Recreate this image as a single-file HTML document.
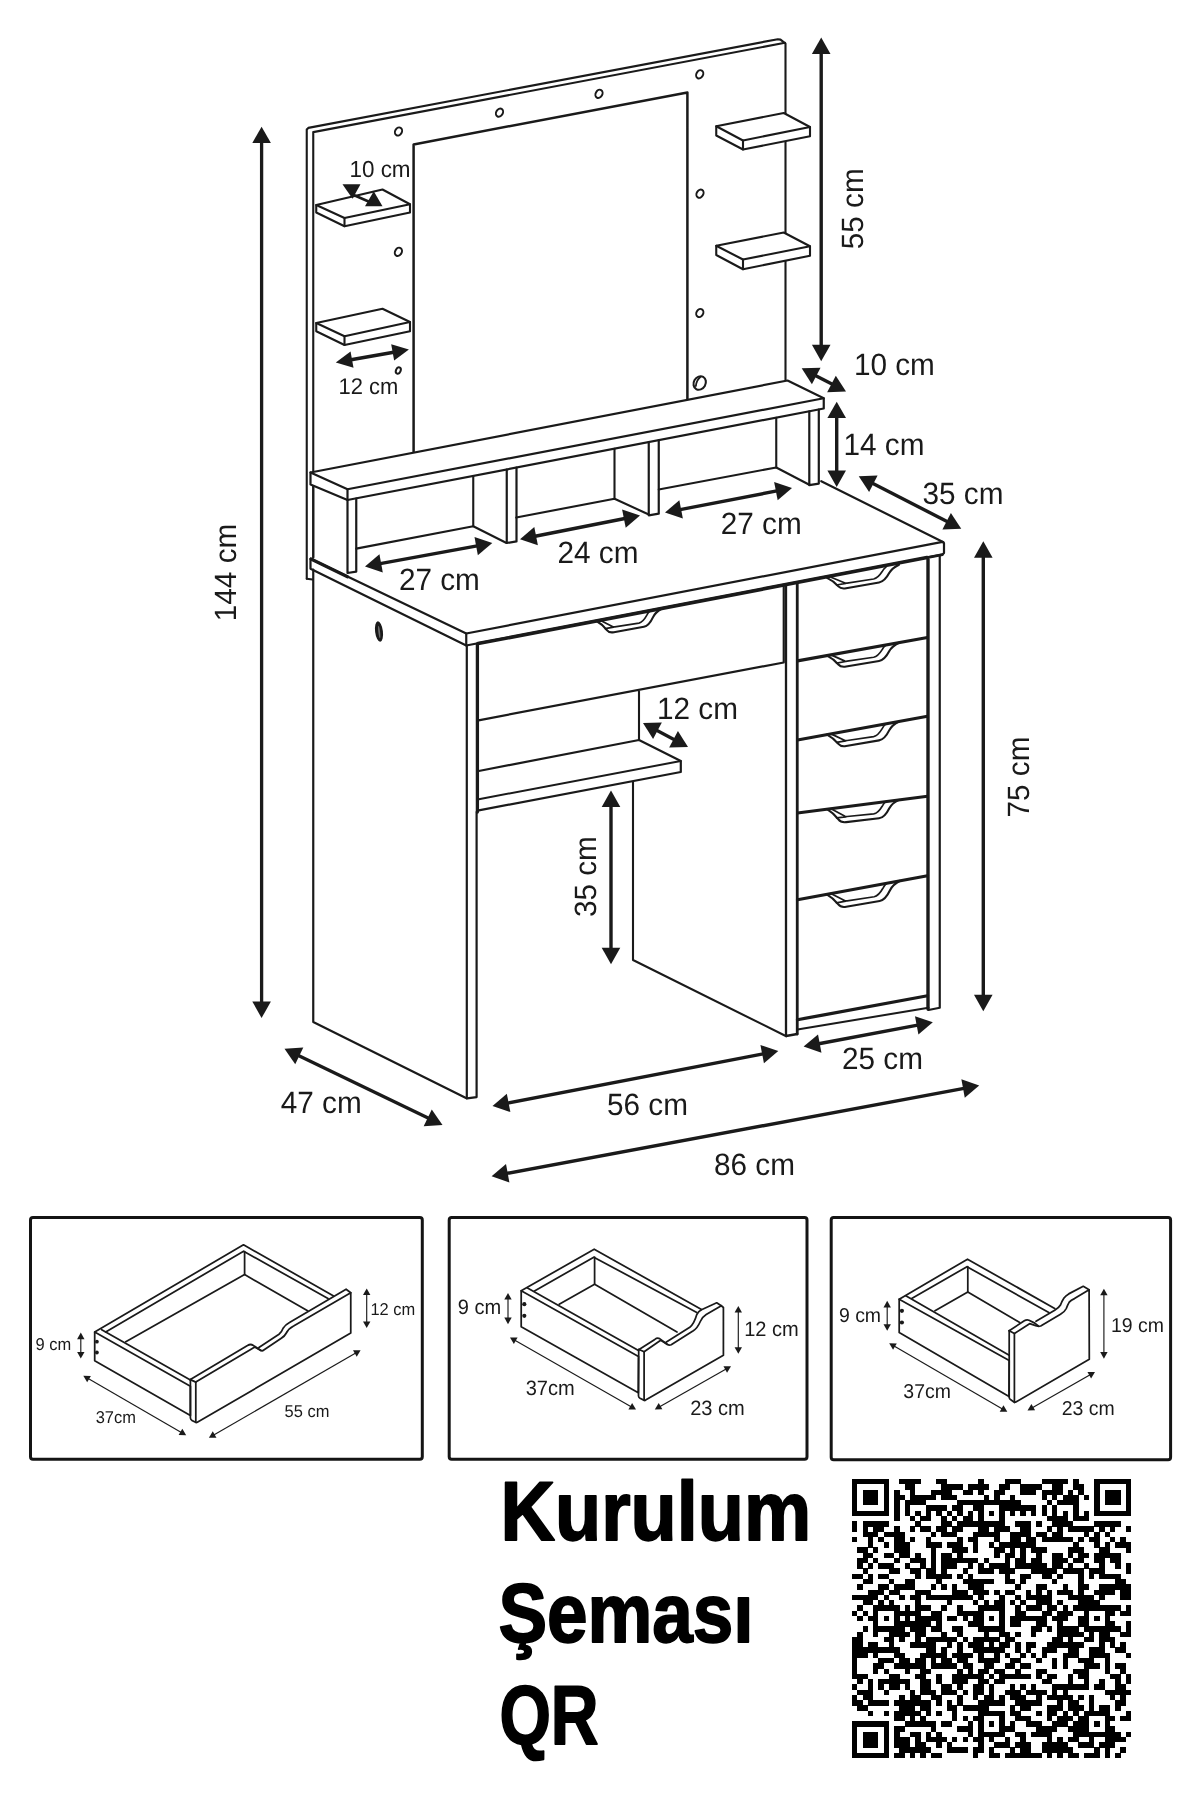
<!DOCTYPE html>
<html><head><meta charset="utf-8"><title>Kurulum Semasi</title>
<style>
html,body{margin:0;padding:0;background:#fff;}
body{width:1200px;height:1800px;overflow:hidden;font-family:"Liberation Sans",sans-serif;}
svg{display:block;font-family:"Liberation Sans",sans-serif;}
text{text-rendering:geometricPrecision;}
</style></head><body>
<svg width="1200" height="1800" viewBox="0 0 1200 1800" style="filter:grayscale(1)">
<rect x="0" y="0" width="1200" height="1800" fill="#ffffff"/>
<path d="M306.75,578.75 L306.75,129.50 L308.30,127.90 L777.80,39.20 L780.50,39.60 L785.50,43.60 L785.50,381.00" fill="none" stroke="#1b1a1d" stroke-width="2.1" stroke-linejoin="round" stroke-linecap="round" />
<path d="M313.25,557.50 L313.25,132.10 L785.00,42.80" fill="none" stroke="#1b1a1d" stroke-width="2.1" stroke-linejoin="round" stroke-linecap="round" />
<line x1="306.75" y1="578.75" x2="312.50" y2="579.50" stroke="#1b1a1d" stroke-width="2.0" stroke-linecap="round"/>
<ellipse cx="398.50" cy="131.50" rx="3.3" ry="4.3" fill="#fff" stroke="#1b1a1d" stroke-width="2.0" transform="rotate(30 398.50 131.50)"/>
<ellipse cx="499.50" cy="112.60" rx="3.3" ry="4.3" fill="#fff" stroke="#1b1a1d" stroke-width="2.0" transform="rotate(30 499.50 112.60)"/>
<ellipse cx="599.00" cy="93.80" rx="3.3" ry="4.3" fill="#fff" stroke="#1b1a1d" stroke-width="2.0" transform="rotate(30 599.00 93.80)"/>
<ellipse cx="699.70" cy="74.30" rx="3.3" ry="4.3" fill="#fff" stroke="#1b1a1d" stroke-width="2.0" transform="rotate(30 699.70 74.30)"/>
<ellipse cx="398.40" cy="251.80" rx="3.3" ry="4.3" fill="#fff" stroke="#1b1a1d" stroke-width="2.0" transform="rotate(30 398.40 251.80)"/>
<ellipse cx="700.00" cy="193.70" rx="3.3" ry="4.3" fill="#fff" stroke="#1b1a1d" stroke-width="2.0" transform="rotate(30 700.00 193.70)"/>
<ellipse cx="699.80" cy="313.00" rx="3.3" ry="4.3" fill="#fff" stroke="#1b1a1d" stroke-width="2.0" transform="rotate(30 699.80 313.00)"/>
<ellipse cx="398.3" cy="370.5" rx="2.3" ry="3.4" fill="#fff" stroke="#1b1a1d" stroke-width="2.0" transform="rotate(22 398.3 370.5)"/>
<ellipse cx="699.7" cy="383" rx="5.9" ry="7" fill="#fff" stroke="#1b1a1d" stroke-width="2.1" transform="rotate(30 699.7 383)"/>
<path d="M700.3,377 Q696.4,380.2 695.9,386" fill="none" stroke="#1b1a1d" stroke-width="1.8" stroke-linecap="round"/>
<path d="M413.60,451.50 L413.60,144.40 L687.40,92.40 L687.40,399.50" fill="none" stroke="#1b1a1d" stroke-width="2.5" stroke-linejoin="round" stroke-linecap="round" />
<path d="M316.25,205.00 L382.50,189.50 L410.00,204.25 L410.00,212.50 L344.50,226.25 L316.25,212.50 Z" fill="#fff" stroke="#1b1a1d" stroke-width="2.1" stroke-linejoin="round" stroke-linecap="round" />
<path d="M316.25,205.00 L344.50,218.00 L410.00,204.25" fill="none" stroke="#1b1a1d" stroke-width="2.1" stroke-linejoin="round" stroke-linecap="round" />
<line x1="344.50" y1="218.00" x2="344.50" y2="226.25" stroke="#1b1a1d" stroke-width="2.1" stroke-linecap="round"/>
<path d="M316.25,323.00 L382.50,308.75 L410.00,322.00 L410.00,331.25 L344.50,345.00 L316.25,331.25 Z" fill="#fff" stroke="#1b1a1d" stroke-width="2.1" stroke-linejoin="round" stroke-linecap="round" />
<path d="M316.25,323.00 L344.50,336.25 L410.00,322.00" fill="none" stroke="#1b1a1d" stroke-width="2.1" stroke-linejoin="round" stroke-linecap="round" />
<line x1="344.50" y1="336.25" x2="344.50" y2="345.00" stroke="#1b1a1d" stroke-width="2.1" stroke-linecap="round"/>
<path d="M716.25,126.25 L783.75,113.00 L810.00,127.00 L810.00,136.25 L743.00,149.50 L716.25,135.50 Z" fill="#fff" stroke="#1b1a1d" stroke-width="2.1" stroke-linejoin="round" stroke-linecap="round" />
<path d="M716.25,126.25 L743.00,140.50 L810.00,127.00" fill="none" stroke="#1b1a1d" stroke-width="2.1" stroke-linejoin="round" stroke-linecap="round" />
<line x1="743.00" y1="140.50" x2="743.00" y2="149.50" stroke="#1b1a1d" stroke-width="2.1" stroke-linecap="round"/>
<path d="M716.25,245.75 L783.75,232.50 L810.00,246.25 L810.00,255.75 L743.00,269.25 L716.25,255.00 Z" fill="#fff" stroke="#1b1a1d" stroke-width="2.1" stroke-linejoin="round" stroke-linecap="round" />
<path d="M716.25,245.75 L743.00,259.50 L810.00,246.25" fill="none" stroke="#1b1a1d" stroke-width="2.1" stroke-linejoin="round" stroke-linecap="round" />
<line x1="743.00" y1="259.50" x2="743.00" y2="269.25" stroke="#1b1a1d" stroke-width="2.1" stroke-linecap="round"/>
<line x1="313.25" y1="486.00" x2="313.25" y2="557.50" stroke="#1b1a1d" stroke-width="2.0" stroke-linecap="round"/>
<path d="M310.50,472.50 L787.50,380.50 L823.75,398.25 L823.75,408.50 L347.50,500.00 L310.50,484.50 Z" fill="#fff" stroke="#1b1a1d" stroke-width="2.2" stroke-linejoin="round" stroke-linecap="round" />
<path d="M310.50,472.50 L347.50,489.25 L823.75,398.25" fill="none" stroke="#1b1a1d" stroke-width="2.2" stroke-linejoin="round" stroke-linecap="round" />
<line x1="347.50" y1="489.25" x2="347.50" y2="500.00" stroke="#1b1a1d" stroke-width="2.2" stroke-linecap="round"/>
<path d="M347.50,500.00 L347.50,573.00 L356.25,571.60 L356.25,498.50" fill="none" stroke="#1b1a1d" stroke-width="2.2" stroke-linejoin="round" stroke-linecap="round" />
<path d="M356.25,548.60 L473.25,526.20 L506.50,543.00" fill="none" stroke="#1b1a1d" stroke-width="2.1" stroke-linejoin="round" stroke-linecap="round" />
<line x1="473.25" y1="476.50" x2="473.25" y2="526.20" stroke="#1b1a1d" stroke-width="2.1" stroke-linecap="round"/>
<path d="M506.75,469.50 L506.75,543.00 L516.50,541.40 L516.50,467.60" fill="none" stroke="#1b1a1d" stroke-width="2.2" stroke-linejoin="round" stroke-linecap="round" />
<path d="M516.25,517.50 L614.50,498.75 L648.75,514.50" fill="none" stroke="#1b1a1d" stroke-width="2.1" stroke-linejoin="round" stroke-linecap="round" />
<line x1="614.50" y1="448.80" x2="614.50" y2="498.75" stroke="#1b1a1d" stroke-width="2.1" stroke-linecap="round"/>
<path d="M648.75,442.10 L648.75,515.30 L658.75,513.70 L658.75,440.20" fill="none" stroke="#1b1a1d" stroke-width="2.2" stroke-linejoin="round" stroke-linecap="round" />
<path d="M658.75,489.50 L776.25,467.50 L809.30,484.80" fill="none" stroke="#1b1a1d" stroke-width="2.1" stroke-linejoin="round" stroke-linecap="round" />
<line x1="776.25" y1="417.70" x2="776.25" y2="467.50" stroke="#1b1a1d" stroke-width="2.1" stroke-linecap="round"/>
<path d="M809.30,411.30 L809.30,485.20 L818.80,483.60 L818.80,409.50" fill="none" stroke="#1b1a1d" stroke-width="2.2" stroke-linejoin="round" stroke-linecap="round" />
<path d="M310.50,558.75 L466.25,633.50 L942.50,541.80 L944.00,543.30 L944.00,553.00 L942.50,554.50 L466.25,645.50 L310.50,568.75 Z" fill="none" stroke="#1b1a1d" stroke-width="2.2" stroke-linejoin="round" stroke-linecap="round" />
<line x1="466.25" y1="633.50" x2="466.25" y2="645.50" stroke="#1b1a1d" stroke-width="2.2" stroke-linecap="round"/>
<line x1="478.00" y1="643.60" x2="927.00" y2="557.60" stroke="#1b1a1d" stroke-width="3.6" stroke-linecap="round"/>
<line x1="927.00" y1="557.60" x2="942.50" y2="554.60" stroke="#1b1a1d" stroke-width="2.6" stroke-linecap="round"/>
<line x1="311.00" y1="559.00" x2="347.50" y2="576.80" stroke="#1b1a1d" stroke-width="3.2" stroke-linecap="round"/>
<line x1="821.25" y1="481.25" x2="943.50" y2="542.30" stroke="#1b1a1d" stroke-width="2.2" stroke-linecap="round"/>
<path d="M313.25,569.50 L313.25,1022.00 L467.00,1098.40 L476.60,1097.10 L476.60,812.00" fill="none" stroke="#1b1a1d" stroke-width="2.2" stroke-linejoin="round" stroke-linecap="round" />
<line x1="466.80" y1="645.50" x2="466.80" y2="1098.30" stroke="#1b1a1d" stroke-width="2.2" stroke-linecap="round"/>
<line x1="477.40" y1="644.50" x2="477.40" y2="812.00" stroke="#1b1a1d" stroke-width="3.3" stroke-linecap="round"/>
<ellipse cx="379" cy="631.5" rx="3.9" ry="10.3" fill="#1b1a1d" transform="rotate(-7 379 631.5)"/>
<ellipse cx="379.2" cy="632" rx="0.9" ry="6.2" fill="#6d6d70" transform="rotate(-7 379.2 632)"/>
<path d="M478.50,720.30 L783.75,662.50 L783.75,586.00" fill="none" stroke="#1b1a1d" stroke-width="2.2" stroke-linejoin="round" stroke-linecap="round" />
<path d="M596.50,621.00 C600.52,623.22 604.10,626.44 606.87,630.08 C608.47,632.22 610.26,632.87 613.92,632.17 L643.86,626.82 C648.33,625.97 651.01,621.47 653.06,617.09 C654.58,613.99 657.26,611.04 662.00,608.50" fill="none" stroke="#1b1a1d" stroke-width="2.1" stroke-linejoin="round" stroke-linecap="round"/>
<path d="M600.16,620.30 L612.85,626.76 Q613.57,627.08 614.82,626.84 L638.95,623.05 C642.97,622.28 645.20,618.05 647.08,614.70 Q648.33,612.20 650.12,610.77 M605.26,628.66 L613.57,627.17" fill="none" stroke="#1b1a1d" stroke-width="1.7" stroke-linejoin="round" stroke-linecap="round"/>
<line x1="639.00" y1="691.50" x2="639.00" y2="740.00" stroke="#1b1a1d" stroke-width="2.1" stroke-linecap="round"/>
<path d="M478.75,771.00 L639.00,740.00 L680.80,761.00 L680.80,772.00 L478.75,810.30" fill="none" stroke="#1b1a1d" stroke-width="2.2" stroke-linejoin="round" stroke-linecap="round" />
<line x1="478.75" y1="799.20" x2="680.80" y2="761.00" stroke="#1b1a1d" stroke-width="2.0" stroke-linecap="round"/>
<path d="M633.00,782.00 L633.00,960.00 L786.25,1036.25" fill="none" stroke="#1b1a1d" stroke-width="2.1" stroke-linejoin="round" stroke-linecap="round" />
<path d="M786.00,585.00 L786.00,1036.00 L797.25,1034.00" fill="none" stroke="#1b1a1d" stroke-width="2.3" stroke-linejoin="round" stroke-linecap="round" />
<line x1="797.25" y1="583.50" x2="797.25" y2="1034.00" stroke="#1b1a1d" stroke-width="2.8" stroke-linecap="round"/>
<line x1="928.00" y1="559.50" x2="928.00" y2="1009.00" stroke="#1b1a1d" stroke-width="3.4" stroke-linecap="round"/>
<path d="M939.75,556.00 L939.75,1007.75 L928.50,1010.00" fill="none" stroke="#1b1a1d" stroke-width="2.2" stroke-linejoin="round" stroke-linecap="round" />
<line x1="797.50" y1="660.90" x2="927.50" y2="637.50" stroke="#1b1a1d" stroke-width="3.2" stroke-linecap="round"/>
<line x1="797.50" y1="740.00" x2="927.50" y2="716.25" stroke="#1b1a1d" stroke-width="3.2" stroke-linecap="round"/>
<line x1="797.50" y1="813.00" x2="927.50" y2="796.25" stroke="#1b1a1d" stroke-width="3.2" stroke-linecap="round"/>
<line x1="797.50" y1="899.75" x2="927.50" y2="875.75" stroke="#1b1a1d" stroke-width="3.3" stroke-linecap="round"/>
<line x1="797.50" y1="1019.75" x2="927.50" y2="995.75" stroke="#1b1a1d" stroke-width="3.3" stroke-linecap="round"/>
<line x1="797.50" y1="1029.50" x2="928.50" y2="1007.75" stroke="#1b1a1d" stroke-width="2.0" stroke-linecap="round"/>
<path d="M827.00,577.90 C831.42,579.94 835.35,582.92 838.39,586.33 C840.16,588.34 842.13,588.93 846.15,588.19 L879.06,582.50 C883.97,581.60 886.92,577.27 889.18,573.06 C890.85,570.08 893.79,567.21 899.00,564.70" fill="none" stroke="#1b1a1d" stroke-width="2.1" stroke-linejoin="round" stroke-linecap="round"/>
<path d="M831.03,577.16 L844.98,583.06 Q845.76,583.34 847.14,583.09 L873.66,579.01 C878.08,578.20 880.53,574.12 882.60,570.90 Q883.97,568.49 885.94,567.10 M836.63,585.02 L845.76,583.43" fill="none" stroke="#1b1a1d" stroke-width="1.7" stroke-linejoin="round" stroke-linecap="round"/>
<path d="M827.00,655.60 C831.42,657.76 835.35,660.90 838.39,664.46 C840.16,666.56 842.13,667.19 846.15,666.47 L879.06,660.93 C883.97,660.05 886.92,655.59 889.18,651.25 C890.85,648.18 893.79,645.24 899.00,642.70" fill="none" stroke="#1b1a1d" stroke-width="2.1" stroke-linejoin="round" stroke-linecap="round"/>
<path d="M831.03,654.88 L844.98,661.14 Q845.76,661.44 847.14,661.20 L873.66,657.25 C878.08,656.46 880.53,652.26 882.60,648.95 Q883.97,646.47 885.94,645.04 M836.63,663.08 L845.76,661.53" fill="none" stroke="#1b1a1d" stroke-width="1.7" stroke-linejoin="round" stroke-linecap="round"/>
<path d="M827.00,734.60 C831.42,736.87 835.35,740.16 838.39,743.89 C840.16,746.08 842.13,746.75 846.15,746.02 L879.06,740.40 C883.97,739.51 886.92,734.87 889.18,730.36 C890.85,727.17 893.79,724.12 899.00,721.50" fill="none" stroke="#1b1a1d" stroke-width="2.1" stroke-linejoin="round" stroke-linecap="round"/>
<path d="M831.03,733.87 L844.98,740.46 Q845.76,740.78 847.14,740.53 L873.66,736.54 C878.08,735.74 880.53,731.38 882.60,727.93 Q883.97,725.35 885.94,723.88 M836.63,742.44 L845.76,740.87" fill="none" stroke="#1b1a1d" stroke-width="1.7" stroke-linejoin="round" stroke-linecap="round"/>
<path d="M827.00,809.20 C831.42,811.81 835.35,815.44 838.39,819.47 C840.16,821.84 842.13,822.65 846.15,822.13 L879.06,818.26 C883.97,817.63 886.92,813.01 889.18,808.48 C890.85,805.28 893.79,802.30 899.00,799.90" fill="none" stroke="#1b1a1d" stroke-width="2.1" stroke-linejoin="round" stroke-linecap="round"/>
<path d="M831.03,808.68 L844.98,816.31 Q845.76,816.69 847.14,816.51 L873.66,813.95 C878.08,813.38 880.53,809.02 882.60,805.58 Q883.97,803.00 885.94,801.59 M836.63,817.87 L845.76,816.79" fill="none" stroke="#1b1a1d" stroke-width="1.7" stroke-linejoin="round" stroke-linecap="round"/>
<path d="M826.70,894.30 C831.20,896.77 835.20,900.33 838.30,904.36 C840.10,906.73 842.10,907.46 846.20,906.71 L879.70,900.94 C884.70,900.02 887.70,895.07 890.00,890.24 C891.70,886.83 894.70,883.58 900.00,880.80" fill="none" stroke="#1b1a1d" stroke-width="2.1" stroke-linejoin="round" stroke-linecap="round"/>
<path d="M830.80,893.54 L845.00,900.73 Q845.80,901.08 847.20,900.82 L874.20,896.75 C878.70,895.92 881.20,891.26 883.30,887.58 Q884.70,884.82 886.70,883.25 M836.50,902.80 L845.80,901.18" fill="none" stroke="#1b1a1d" stroke-width="1.7" stroke-linejoin="round" stroke-linecap="round"/>
<line x1="261.60" y1="142.10" x2="261.60" y2="1002.60" stroke="#1b1a1d" stroke-width="3.3"/>
<polygon points="261.60,126.70 252.30,143.10 270.90,143.10" fill="#1b1a1d"/>
<polygon points="261.60,1018.00 252.30,1001.60 270.90,1001.60" fill="#1b1a1d"/>
<line x1="821.20" y1="52.90" x2="821.20" y2="345.80" stroke="#1b1a1d" stroke-width="3.4"/>
<polygon points="821.20,37.50 811.90,53.90 830.50,53.90" fill="#1b1a1d"/>
<polygon points="821.20,361.20 811.90,344.80 830.50,344.80" fill="#1b1a1d"/>
<line x1="815.34" y1="375.44" x2="832.36" y2="384.36" stroke="#1b1a1d" stroke-width="3.4"/>
<polygon points="801.70,368.30 811.91,384.15 820.54,367.67" fill="#1b1a1d"/>
<polygon points="846.00,391.50 827.16,392.13 835.79,375.65" fill="#1b1a1d"/>
<line x1="836.70" y1="417.10" x2="836.70" y2="471.60" stroke="#1b1a1d" stroke-width="3.4"/>
<polygon points="836.70,401.70 827.40,418.10 846.00,418.10" fill="#1b1a1d"/>
<polygon points="836.70,487.00 827.40,470.60 846.00,470.60" fill="#1b1a1d"/>
<line x1="872.46" y1="483.27" x2="947.54" y2="521.73" stroke="#1b1a1d" stroke-width="3.4"/>
<polygon points="858.75,476.25 869.11,492.00 877.59,475.45" fill="#1b1a1d"/>
<polygon points="961.25,528.75 942.41,529.55 950.89,513.00" fill="#1b1a1d"/>
<line x1="380.15" y1="563.63" x2="477.15" y2="545.87" stroke="#1b1a1d" stroke-width="3.4"/>
<polygon points="365.00,566.40 382.81,572.60 379.46,554.30" fill="#1b1a1d"/>
<polygon points="492.30,543.10 477.84,555.20 474.49,536.90" fill="#1b1a1d"/>
<line x1="535.11" y1="536.22" x2="624.89" y2="518.48" stroke="#1b1a1d" stroke-width="3.4"/>
<polygon points="520.00,539.20 537.89,545.15 534.29,526.90" fill="#1b1a1d"/>
<polygon points="640.00,515.50 625.71,527.80 622.11,509.55" fill="#1b1a1d"/>
<line x1="680.12" y1="509.58" x2="776.88" y2="490.92" stroke="#1b1a1d" stroke-width="3.4"/>
<polygon points="665.00,512.50 682.86,518.53 679.34,500.26" fill="#1b1a1d"/>
<polygon points="792.00,488.00 777.66,500.24 774.14,481.97" fill="#1b1a1d"/>
<line x1="656.59" y1="730.25" x2="674.41" y2="739.75" stroke="#1b1a1d" stroke-width="3.2"/>
<polygon points="643.00,723.00 653.09,738.92 661.85,722.51" fill="#1b1a1d"/>
<polygon points="688.00,747.00 669.15,747.49 677.91,731.08" fill="#1b1a1d"/>
<line x1="611.00" y1="805.90" x2="611.00" y2="948.80" stroke="#1b1a1d" stroke-width="3.4"/>
<polygon points="611.00,790.50 601.70,806.90 620.30,806.90" fill="#1b1a1d"/>
<polygon points="611.00,964.20 601.70,947.80 620.30,947.80" fill="#1b1a1d"/>
<line x1="983.30" y1="556.70" x2="983.30" y2="995.80" stroke="#1b1a1d" stroke-width="3.4"/>
<polygon points="983.30,541.30 974.00,557.70 992.60,557.70" fill="#1b1a1d"/>
<polygon points="983.30,1011.20 974.00,994.80 992.60,994.80" fill="#1b1a1d"/>
<line x1="298.37" y1="1055.44" x2="428.63" y2="1118.31" stroke="#1b1a1d" stroke-width="3.4"/>
<polygon points="284.50,1048.75 295.23,1064.25 303.31,1047.50" fill="#1b1a1d"/>
<polygon points="442.50,1125.00 423.69,1126.25 431.77,1109.50" fill="#1b1a1d"/>
<line x1="507.62" y1="1103.09" x2="763.18" y2="1053.91" stroke="#1b1a1d" stroke-width="3.4"/>
<polygon points="492.50,1106.00 510.36,1112.03 506.85,1093.77" fill="#1b1a1d"/>
<polygon points="778.30,1051.00 763.95,1063.23 760.44,1044.97" fill="#1b1a1d"/>
<line x1="506.74" y1="1173.43" x2="964.06" y2="1088.32" stroke="#1b1a1d" stroke-width="3.4"/>
<polygon points="491.60,1176.25 509.42,1182.39 506.02,1164.11" fill="#1b1a1d"/>
<polygon points="979.20,1085.50 964.78,1097.64 961.38,1079.36" fill="#1b1a1d"/>
<line x1="818.73" y1="1043.75" x2="917.67" y2="1025.15" stroke="#1b1a1d" stroke-width="3.4"/>
<polygon points="803.60,1046.60 821.44,1052.71 818.00,1034.43" fill="#1b1a1d"/>
<polygon points="932.80,1022.30 918.40,1034.47 914.96,1016.19" fill="#1b1a1d"/>
<line x1="351.05" y1="359.85" x2="393.65" y2="352.15" stroke="#1b1a1d" stroke-width="3.6"/>
<polygon points="335.80,362.60 353.50,367.79 350.57,351.55" fill="#1b1a1d"/>
<polygon points="408.90,349.40 394.13,360.45 391.20,344.21" fill="#1b1a1d"/>
<polygon points="342.5,184.25 360.5,184.25 352.5,198.75" fill="#1b1a1d"/>
<polygon points="365,206.25 382.5,206.25 373.75,191.25" fill="#1b1a1d"/>
<line x1="352.50" y1="194.50" x2="372.00" y2="203.00" stroke="#1b1a1d" stroke-width="2.6" stroke-linecap="round"/>
<text transform="translate(235.60 572.50) rotate(-90) scale(0.967 1)" x="0" y="0" font-size="30.78" text-anchor="middle" font-weight="normal" fill="#1b1a1d" >144 cm</text>
<text transform="translate(863.00 208.75) rotate(-90) scale(0.967 1)" x="0" y="0" font-size="30.78" text-anchor="middle" font-weight="normal" fill="#1b1a1d" >55 cm</text>
<text transform="translate(894.40 375.00) scale(0.967 1)" x="0" y="0" font-size="30.78" text-anchor="middle" font-weight="normal" fill="#1b1a1d" >10 cm</text>
<text transform="translate(884.00 455.00) scale(0.967 1)" x="0" y="0" font-size="30.78" text-anchor="middle" font-weight="normal" fill="#1b1a1d" >14 cm</text>
<text transform="translate(963.00 503.75) scale(0.967 1)" x="0" y="0" font-size="30.78" text-anchor="middle" font-weight="normal" fill="#1b1a1d" >35 cm</text>
<text transform="translate(439.40 590.00) scale(0.967 1)" x="0" y="0" font-size="30.78" text-anchor="middle" font-weight="normal" fill="#1b1a1d" >27 cm</text>
<text transform="translate(598.00 563.00) scale(0.967 1)" x="0" y="0" font-size="30.78" text-anchor="middle" font-weight="normal" fill="#1b1a1d" >24 cm</text>
<text transform="translate(761.25 533.75) scale(0.967 1)" x="0" y="0" font-size="30.78" text-anchor="middle" font-weight="normal" fill="#1b1a1d" >27 cm</text>
<text transform="translate(697.50 718.75) scale(0.967 1)" x="0" y="0" font-size="30.78" text-anchor="middle" font-weight="normal" fill="#1b1a1d" >12 cm</text>
<text transform="translate(595.50 876.60) rotate(-90) scale(0.967 1)" x="0" y="0" font-size="30.78" text-anchor="middle" font-weight="normal" fill="#1b1a1d" >35 cm</text>
<text transform="translate(1029.00 777.00) rotate(-90) scale(0.967 1)" x="0" y="0" font-size="30.78" text-anchor="middle" font-weight="normal" fill="#1b1a1d" >75 cm</text>
<text transform="translate(321.25 1112.50) scale(0.967 1)" x="0" y="0" font-size="30.78" text-anchor="middle" font-weight="normal" fill="#1b1a1d" >47 cm</text>
<text transform="translate(647.50 1114.60) scale(0.967 1)" x="0" y="0" font-size="30.78" text-anchor="middle" font-weight="normal" fill="#1b1a1d" >56 cm</text>
<text transform="translate(754.50 1175.00) scale(0.967 1)" x="0" y="0" font-size="30.78" text-anchor="middle" font-weight="normal" fill="#1b1a1d" >86 cm</text>
<text transform="translate(882.50 1068.75) scale(0.967 1)" x="0" y="0" font-size="30.78" text-anchor="middle" font-weight="normal" fill="#1b1a1d" >25 cm</text>
<text transform="translate(380.00 176.70) scale(0.967 1)" x="0" y="0" font-size="23.24" text-anchor="middle" font-weight="normal" fill="#1b1a1d" >10 cm</text>
<text transform="translate(368.50 393.60) scale(0.967 1)" x="0" y="0" font-size="22.73" text-anchor="middle" font-weight="normal" fill="#1b1a1d" >12 cm</text>
<rect x="30.50" y="1217.50" width="391.80" height="241.80" rx="2.5" fill="none" stroke="#141414" stroke-width="3"/>
<rect x="449.20" y="1217.50" width="357.80" height="241.80" rx="2.5" fill="none" stroke="#141414" stroke-width="3"/>
<rect x="831.20" y="1217.50" width="339.40" height="242.30" rx="2.5" fill="none" stroke="#141414" stroke-width="3"/>
<path d="M94.70,1332.00 L243.50,1244.80 L333.20,1295.70" fill="none" stroke="#1b1a1d" stroke-width="1.75" stroke-linejoin="round" stroke-linecap="round" />
<path d="M105.70,1332.00 L243.60,1251.20 L328.00,1298.60" fill="none" stroke="#1b1a1d" stroke-width="1.75" stroke-linejoin="round" stroke-linecap="round" />
<line x1="244.60" y1="1251.50" x2="244.60" y2="1274.60" stroke="#1b1a1d" stroke-width="1.75" stroke-linecap="round"/>
<path d="M125.80,1341.70 L244.60,1274.60 L307.60,1310.80" fill="none" stroke="#1b1a1d" stroke-width="1.75" stroke-linejoin="round" stroke-linecap="round" />
<path d="M94.70,1332.00 L190.40,1386.25 L190.40,1415.40 L94.70,1360.80 Z" fill="none" stroke="#1b1a1d" stroke-width="1.75" stroke-linejoin="round" stroke-linecap="round" />
<line x1="101.70" y1="1329.70" x2="190.40" y2="1380.00" stroke="#1b1a1d" stroke-width="1.75" stroke-linecap="round"/>
<path d="M195.8,1382.1 L251.5,1348.9 Q254.7,1347 254.7,1347 L260.9,1350.5 Q262.4,1351.2 263.8,1350 L281.3,1338.25 Q284.8,1336 286,1333.5 Q288.5,1328.5 293.6,1326 L350.75,1292.75 L350.75,1333 L197.3,1422.3 Q195.8,1423 195.8,1421 Z" fill="#fff" stroke="#1b1a1d" stroke-width="1.75" stroke-linejoin="round" stroke-linecap="round"/>
<path d="M190.4,1379.6 L247.5,1345.6 Q250.5,1343.6 253,1345.2 L260.9,1350.5" fill="none" stroke="#1b1a1d" stroke-width="1.75" stroke-linejoin="round" stroke-linecap="round"/>
<path d="M258.9,1347.4 L279,1334.2 Q281.8,1332 283.1,1328.3 Q285.5,1324.6 289.5,1322.5 L346.1,1289.25 L350.75,1292.75" fill="none" stroke="#1b1a1d" stroke-width="1.75" stroke-linejoin="round" stroke-linecap="round"/>
<path d="M190.4,1379.6 L190.4,1418 Q190.6,1419.6 192,1420.4 L196,1422.6" fill="none" stroke="#1b1a1d" stroke-width="1.75" stroke-linejoin="round" stroke-linecap="round"/>
<line x1="190.40" y1="1379.60" x2="195.80" y2="1382.10" stroke="#1b1a1d" stroke-width="1.75" stroke-linecap="round"/>
<circle cx="96.90" cy="1341.70" r="1.90" fill="#1b1a1d"/>
<circle cx="96.90" cy="1352.50" r="1.90" fill="#1b1a1d"/>
<line x1="80.80" y1="1338.20" x2="80.80" y2="1352.90" stroke="#1b1a1d" stroke-width="1.15"/>
<polygon points="80.80,1332.60 77.10,1339.20 84.50,1339.20" fill="#1b1a1d"/>
<polygon points="80.80,1358.50 77.10,1351.90 84.50,1351.90" fill="#1b1a1d"/>
<line x1="88.15" y1="1378.60" x2="181.35" y2="1432.40" stroke="#1b1a1d" stroke-width="1.15"/>
<polygon points="83.30,1375.80 87.17,1382.30 90.87,1375.90" fill="#1b1a1d"/>
<polygon points="186.20,1435.20 178.63,1435.10 182.33,1428.70" fill="#1b1a1d"/>
<line x1="213.75" y1="1435.00" x2="355.75" y2="1353.00" stroke="#1b1a1d" stroke-width="1.15"/>
<polygon points="208.90,1437.80 216.47,1437.70 212.77,1431.30" fill="#1b1a1d"/>
<polygon points="360.60,1350.20 356.73,1356.70 353.03,1350.30" fill="#1b1a1d"/>
<line x1="366.70" y1="1294.10" x2="366.70" y2="1322.40" stroke="#1b1a1d" stroke-width="1.15"/>
<polygon points="366.70,1288.50 363.00,1295.10 370.40,1295.10" fill="#1b1a1d"/>
<polygon points="366.70,1328.00 363.00,1321.40 370.40,1321.40" fill="#1b1a1d"/>
<text transform="translate(53.30 1350.00) scale(0.967 1)" x="0" y="0" font-size="17.04" text-anchor="middle" font-weight="normal" fill="#1b1a1d" >9 cm</text>
<text transform="translate(115.80 1423.30) scale(0.967 1)" x="0" y="0" font-size="17.04" text-anchor="middle" font-weight="normal" fill="#1b1a1d" >37cm</text>
<text transform="translate(307.00 1416.70) scale(0.967 1)" x="0" y="0" font-size="17.04" text-anchor="middle" font-weight="normal" fill="#1b1a1d" >55 cm</text>
<text transform="translate(392.80 1314.60) scale(0.967 1)" x="0" y="0" font-size="17.04" text-anchor="middle" font-weight="normal" fill="#1b1a1d" >12 cm</text>
<path d="M521.20,1290.80 L594.20,1249.20 L701.50,1309.50" fill="none" stroke="#1b1a1d" stroke-width="1.75" stroke-linejoin="round" stroke-linecap="round" />
<path d="M534.50,1291.00 L593.80,1257.20 L696.80,1312.40" fill="none" stroke="#1b1a1d" stroke-width="1.75" stroke-linejoin="round" stroke-linecap="round" />
<line x1="594.60" y1="1257.00" x2="594.60" y2="1284.20" stroke="#1b1a1d" stroke-width="1.75" stroke-linecap="round"/>
<path d="M559.20,1304.20 L594.60,1284.20 L677.00,1332.00" fill="none" stroke="#1b1a1d" stroke-width="1.75" stroke-linejoin="round" stroke-linecap="round" />
<path d="M521.20,1290.80 L638.50,1356.50 L638.30,1392.70 L521.20,1326.70 Z" fill="none" stroke="#1b1a1d" stroke-width="1.75" stroke-linejoin="round" stroke-linecap="round" />
<line x1="527.50" y1="1288.00" x2="638.50" y2="1350.50" stroke="#1b1a1d" stroke-width="1.75" stroke-linecap="round"/>
<path d="M644.1,1351.8 L660.7,1340.2 L667.1,1344.25 Q669,1345.6 671.2,1344.8 L693.3,1330.8 Q697.5,1328 700.3,1321.5 Q702.5,1316.7 706.2,1314.5 L721.3,1305.75 L723.4,1307.5 L723.4,1355.3 L645.6,1400.1 Q644.1,1400.8 644.1,1399 Z" fill="#fff" stroke="#1b1a1d" stroke-width="1.75" stroke-linejoin="round" stroke-linecap="round"/>
<path d="M639.1,1349.5 L654.8,1339.4 Q657.2,1337.6 659.6,1338.6 L667.1,1344.25" fill="none" stroke="#1b1a1d" stroke-width="1.75" stroke-linejoin="round" stroke-linecap="round"/>
<path d="M666,1342.2 L689.8,1327.3 Q694,1324 696.8,1314.5 Q698.5,1311.2 701.5,1309.8 L716.7,1302.8 L721.3,1305.75" fill="none" stroke="#1b1a1d" stroke-width="1.75" stroke-linejoin="round" stroke-linecap="round"/>
<path d="M638.7,1349.5 L638.5,1396 Q638.7,1397.5 640,1398.3 L644.3,1400.4" fill="none" stroke="#1b1a1d" stroke-width="1.75" stroke-linejoin="round" stroke-linecap="round"/>
<line x1="639.10" y1="1349.50" x2="644.10" y2="1351.80" stroke="#1b1a1d" stroke-width="1.75" stroke-linecap="round"/>
<circle cx="524.30" cy="1304.20" r="2.10" fill="#1b1a1d"/>
<circle cx="524.30" cy="1315.80" r="2.10" fill="#1b1a1d"/>
<line x1="508.00" y1="1298.60" x2="508.00" y2="1318.60" stroke="#1b1a1d" stroke-width="1.15"/>
<polygon points="508.00,1293.00 504.30,1299.60 511.70,1299.60" fill="#1b1a1d"/>
<polygon points="508.00,1324.20 504.30,1317.60 511.70,1317.60" fill="#1b1a1d"/>
<line x1="514.86" y1="1340.28" x2="631.14" y2="1406.82" stroke="#1b1a1d" stroke-width="1.15"/>
<polygon points="510.00,1337.50 513.89,1343.99 517.57,1337.57" fill="#1b1a1d"/>
<polygon points="636.00,1409.60 628.43,1409.53 632.11,1403.11" fill="#1b1a1d"/>
<line x1="659.67" y1="1406.64" x2="726.13" y2="1368.96" stroke="#1b1a1d" stroke-width="1.15"/>
<polygon points="654.80,1409.40 662.37,1409.36 658.72,1402.93" fill="#1b1a1d"/>
<polygon points="731.00,1366.20 727.08,1372.67 723.43,1366.24" fill="#1b1a1d"/>
<line x1="738.30" y1="1311.60" x2="738.30" y2="1348.20" stroke="#1b1a1d" stroke-width="1.15"/>
<polygon points="738.30,1306.00 734.60,1312.60 742.00,1312.60" fill="#1b1a1d"/>
<polygon points="738.30,1353.80 734.60,1347.20 742.00,1347.20" fill="#1b1a1d"/>
<text transform="translate(479.40 1314.20) scale(0.967 1)" x="0" y="0" font-size="20.76" text-anchor="middle" font-weight="normal" fill="#1b1a1d" >9 cm</text>
<text transform="translate(550.20 1394.70) scale(0.967 1)" x="0" y="0" font-size="20.76" text-anchor="middle" font-weight="normal" fill="#1b1a1d" >37cm</text>
<text transform="translate(717.50 1414.60) scale(0.967 1)" x="0" y="0" font-size="20.76" text-anchor="middle" font-weight="normal" fill="#1b1a1d" >23 cm</text>
<text transform="translate(771.50 1336.00) scale(0.967 1)" x="0" y="0" font-size="20.76" text-anchor="middle" font-weight="normal" fill="#1b1a1d" >12 cm</text>
<path d="M899.20,1299.20 L967.50,1259.20 L1054.70,1308.50" fill="none" stroke="#1b1a1d" stroke-width="1.75" stroke-linejoin="round" stroke-linecap="round" />
<path d="M911.70,1298.50 L967.00,1266.70 L1048.80,1312.60" fill="none" stroke="#1b1a1d" stroke-width="1.75" stroke-linejoin="round" stroke-linecap="round" />
<line x1="967.80" y1="1266.70" x2="967.80" y2="1292.00" stroke="#1b1a1d" stroke-width="1.75" stroke-linecap="round"/>
<path d="M935.00,1310.80 L967.80,1292.00 L1019.70,1322.50" fill="none" stroke="#1b1a1d" stroke-width="1.75" stroke-linejoin="round" stroke-linecap="round" />
<path d="M899.20,1299.20 L1009.20,1360.40 L1009.00,1396.60 L899.20,1332.50 Z" fill="none" stroke="#1b1a1d" stroke-width="1.75" stroke-linejoin="round" stroke-linecap="round" />
<line x1="905.80" y1="1295.80" x2="1009.20" y2="1355.20" stroke="#1b1a1d" stroke-width="1.75" stroke-linecap="round"/>
<path d="M1014.4,1333.6 L1029.6,1323.7 L1036.5,1325.8 Q1038.5,1326.6 1040.7,1326 L1060.5,1314.3 Q1064.8,1311.8 1066.3,1308.5 Q1067.8,1304.5 1069.25,1302.1 Q1071,1300 1074.5,1298.6 L1089.1,1289.8 L1089.3,1359.25 L1015.9,1402 Q1014.4,1402.8 1014.4,1401 Z" fill="#fff" stroke="#1b1a1d" stroke-width="1.75" stroke-linejoin="round" stroke-linecap="round"/>
<path d="M1009.2,1330.7 L1024.3,1320.8 Q1026.7,1319.3 1029,1320.2 L1034.8,1323.1 L1038.3,1326" fill="none" stroke="#1b1a1d" stroke-width="1.75" stroke-linejoin="round" stroke-linecap="round"/>
<path d="M1036,1321.3 L1054.7,1310.25 Q1059,1307.6 1060.5,1305 Q1062,1301 1064,1298 Q1065.8,1295.5 1068.7,1293.9 L1083.25,1286.3 L1089.1,1289.8" fill="none" stroke="#1b1a1d" stroke-width="1.75" stroke-linejoin="round" stroke-linecap="round"/>
<path d="M1009.2,1330.7 L1009.2,1397.5 Q1009.4,1399 1010.8,1399.8 L1014.6,1402.5" fill="none" stroke="#1b1a1d" stroke-width="1.75" stroke-linejoin="round" stroke-linecap="round"/>
<line x1="1009.20" y1="1330.70" x2="1014.40" y2="1333.60" stroke="#1b1a1d" stroke-width="1.75" stroke-linecap="round"/>
<circle cx="901.90" cy="1310.80" r="2.10" fill="#1b1a1d"/>
<circle cx="901.90" cy="1322.50" r="2.10" fill="#1b1a1d"/>
<line x1="887.20" y1="1306.40" x2="887.20" y2="1325.20" stroke="#1b1a1d" stroke-width="1.15"/>
<polygon points="887.20,1300.80 883.50,1307.40 890.90,1307.40" fill="#1b1a1d"/>
<polygon points="887.20,1330.80 883.50,1324.20 890.90,1324.20" fill="#1b1a1d"/>
<line x1="894.04" y1="1346.11" x2="1002.46" y2="1408.99" stroke="#1b1a1d" stroke-width="1.15"/>
<polygon points="889.20,1343.30 893.05,1349.81 896.77,1343.41" fill="#1b1a1d"/>
<polygon points="1007.30,1411.80 999.73,1411.69 1003.45,1405.29" fill="#1b1a1d"/>
<line x1="1032.37" y1="1407.63" x2="1090.13" y2="1374.77" stroke="#1b1a1d" stroke-width="1.15"/>
<polygon points="1027.50,1410.40 1035.07,1410.35 1031.41,1403.92" fill="#1b1a1d"/>
<polygon points="1095.00,1372.00 1091.09,1378.48 1087.43,1372.05" fill="#1b1a1d"/>
<line x1="1103.90" y1="1294.30" x2="1103.90" y2="1353.10" stroke="#1b1a1d" stroke-width="1.15"/>
<polygon points="1103.90,1288.70 1100.20,1295.30 1107.60,1295.30" fill="#1b1a1d"/>
<polygon points="1103.90,1358.70 1100.20,1352.10 1107.60,1352.10" fill="#1b1a1d"/>
<text transform="translate(860.00 1321.70) scale(0.967 1)" x="0" y="0" font-size="20.14" text-anchor="middle" font-weight="normal" fill="#1b1a1d" >9 cm</text>
<text transform="translate(927.10 1397.50) scale(0.967 1)" x="0" y="0" font-size="20.14" text-anchor="middle" font-weight="normal" fill="#1b1a1d" >37cm</text>
<text transform="translate(1088.20 1414.60) scale(0.967 1)" x="0" y="0" font-size="20.14" text-anchor="middle" font-weight="normal" fill="#1b1a1d" >23 cm</text>
<text transform="translate(1137.50 1332.00) scale(0.967 1)" x="0" y="0" font-size="20.14" text-anchor="middle" font-weight="normal" fill="#1b1a1d" >19 cm</text>
<text x="500.40" y="1540.20" font-size="83.6" font-weight="bold" fill="#000" stroke="#000" stroke-width="1.8" stroke-linejoin="round" textLength="310.70" lengthAdjust="spacingAndGlyphs">Kurulum</text>
<text x="498.40" y="1642.20" font-size="83.6" font-weight="bold" fill="#000" stroke="#000" stroke-width="1.8" stroke-linejoin="round" textLength="255.20" lengthAdjust="spacingAndGlyphs">Şeması</text>
<text x="499.40" y="1744.20" font-size="83.6" font-weight="bold" fill="#000" stroke="#000" stroke-width="1.8" stroke-linejoin="round" textLength="99.20" lengthAdjust="spacingAndGlyphs">QR</text>
<path d="M852.00,1479.00h37.00v5.41h-37.00zM899.38,1479.00h21.21v5.41h-21.21zM936.23,1479.00h10.68v5.41h-10.68zM978.34,1479.00h5.41v5.41h-5.41zM1004.66,1479.00h15.94v5.41h-15.94zM1041.51,1479.00h26.47v5.41h-26.47zM1073.09,1479.00h5.41v5.41h-5.41zM1094.15,1479.00h37.00v5.41h-37.00zM852.00,1484.26h5.41v5.41h-5.41zM883.58,1484.26h5.41v5.41h-5.41zM904.64,1484.26h10.68v5.41h-10.68zM941.49,1484.26h21.21v5.41h-21.21zM967.81,1484.26h21.21v5.41h-21.21zM999.40,1484.26h10.68v5.41h-10.68zM1020.45,1484.26h21.21v5.41h-21.21zM1052.04,1484.26h10.68v5.41h-10.68zM1073.09,1484.26h10.68v5.41h-10.68zM1094.15,1484.26h5.41v5.41h-5.41zM1125.74,1484.26h5.41v5.41h-5.41zM852.00,1489.53h5.41v5.41h-5.41zM862.53,1489.53h15.94v5.41h-15.94zM883.58,1489.53h5.41v5.41h-5.41zM894.11,1489.53h5.41v5.41h-5.41zM909.91,1489.53h5.41v5.41h-5.41zM930.96,1489.53h21.21v5.41h-21.21zM962.55,1489.53h10.68v5.41h-10.68zM978.34,1489.53h5.41v5.41h-5.41zM994.13,1489.53h10.68v5.41h-10.68zM1020.45,1489.53h15.94v5.41h-15.94zM1041.51,1489.53h21.21v5.41h-21.21zM1067.83,1489.53h5.41v5.41h-5.41zM1078.36,1489.53h5.41v5.41h-5.41zM1094.15,1489.53h5.41v5.41h-5.41zM1104.68,1489.53h15.94v5.41h-15.94zM1125.74,1489.53h5.41v5.41h-5.41zM852.00,1494.79h5.41v5.41h-5.41zM862.53,1494.79h15.94v5.41h-15.94zM883.58,1494.79h5.41v5.41h-5.41zM894.11,1494.79h10.68v5.41h-10.68zM909.91,1494.79h26.47v5.41h-26.47zM941.49,1494.79h15.94v5.41h-15.94zM983.60,1494.79h5.41v5.41h-5.41zM994.13,1494.79h5.41v5.41h-5.41zM1009.92,1494.79h5.41v5.41h-5.41zM1041.51,1494.79h5.41v5.41h-5.41zM1052.04,1494.79h5.41v5.41h-5.41zM1062.57,1494.79h15.94v5.41h-15.94zM1083.62,1494.79h5.41v5.41h-5.41zM1094.15,1494.79h5.41v5.41h-5.41zM1104.68,1494.79h15.94v5.41h-15.94zM1125.74,1494.79h5.41v5.41h-5.41zM852.00,1500.06h5.41v5.41h-5.41zM862.53,1500.06h15.94v5.41h-15.94zM883.58,1500.06h5.41v5.41h-5.41zM894.11,1500.06h5.41v5.41h-5.41zM904.64,1500.06h21.21v5.41h-21.21zM957.28,1500.06h63.32v5.41h-63.32zM1046.77,1500.06h5.41v5.41h-5.41zM1057.30,1500.06h21.21v5.41h-21.21zM1094.15,1500.06h5.41v5.41h-5.41zM1104.68,1500.06h15.94v5.41h-15.94zM1125.74,1500.06h5.41v5.41h-5.41zM852.00,1505.32h5.41v5.41h-5.41zM883.58,1505.32h5.41v5.41h-5.41zM894.11,1505.32h5.41v5.41h-5.41zM904.64,1505.32h5.41v5.41h-5.41zM925.70,1505.32h21.21v5.41h-21.21zM952.02,1505.32h10.68v5.41h-10.68zM973.08,1505.32h10.68v5.41h-10.68zM999.40,1505.32h37.00v5.41h-37.00zM1041.51,1505.32h5.41v5.41h-5.41zM1052.04,1505.32h5.41v5.41h-5.41zM1073.09,1505.32h5.41v5.41h-5.41zM1094.15,1505.32h5.41v5.41h-5.41zM1125.74,1505.32h5.41v5.41h-5.41zM852.00,1510.58h37.00v5.41h-37.00zM894.11,1510.58h5.41v5.41h-5.41zM904.64,1510.58h5.41v5.41h-5.41zM915.17,1510.58h5.41v5.41h-5.41zM925.70,1510.58h5.41v5.41h-5.41zM936.23,1510.58h5.41v5.41h-5.41zM946.75,1510.58h5.41v5.41h-5.41zM957.28,1510.58h5.41v5.41h-5.41zM967.81,1510.58h5.41v5.41h-5.41zM978.34,1510.58h5.41v5.41h-5.41zM988.87,1510.58h5.41v5.41h-5.41zM999.40,1510.58h5.41v5.41h-5.41zM1009.92,1510.58h5.41v5.41h-5.41zM1020.45,1510.58h5.41v5.41h-5.41zM1030.98,1510.58h5.41v5.41h-5.41zM1041.51,1510.58h5.41v5.41h-5.41zM1052.04,1510.58h5.41v5.41h-5.41zM1062.57,1510.58h5.41v5.41h-5.41zM1073.09,1510.58h5.41v5.41h-5.41zM1083.62,1510.58h5.41v5.41h-5.41zM1094.15,1510.58h37.00v5.41h-37.00zM894.11,1515.85h5.41v5.41h-5.41zM909.91,1515.85h5.41v5.41h-5.41zM920.43,1515.85h10.68v5.41h-10.68zM941.49,1515.85h5.41v5.41h-5.41zM952.02,1515.85h5.41v5.41h-5.41zM962.55,1515.85h10.68v5.41h-10.68zM978.34,1515.85h5.41v5.41h-5.41zM999.40,1515.85h5.41v5.41h-5.41zM1046.77,1515.85h21.21v5.41h-21.21zM1073.09,1515.85h15.94v5.41h-15.94zM852.00,1521.11h5.41v5.41h-5.41zM862.53,1521.11h26.47v5.41h-26.47zM915.17,1521.11h5.41v5.41h-5.41zM941.49,1521.11h10.68v5.41h-10.68zM957.28,1521.11h47.53v5.41h-47.53zM1015.19,1521.11h15.94v5.41h-15.94zM1036.25,1521.11h5.41v5.41h-5.41zM1052.04,1521.11h21.21v5.41h-21.21zM1094.15,1521.11h26.47v5.41h-26.47zM852.00,1526.38h5.41v5.41h-5.41zM862.53,1526.38h5.41v5.41h-5.41zM873.06,1526.38h10.68v5.41h-10.68zM894.11,1526.38h5.41v5.41h-5.41zM909.91,1526.38h5.41v5.41h-5.41zM920.43,1526.38h10.68v5.41h-10.68zM936.23,1526.38h10.68v5.41h-10.68zM952.02,1526.38h10.68v5.41h-10.68zM978.34,1526.38h10.68v5.41h-10.68zM994.13,1526.38h15.94v5.41h-15.94zM1020.45,1526.38h10.68v5.41h-10.68zM1046.77,1526.38h5.41v5.41h-5.41zM1057.30,1526.38h5.41v5.41h-5.41zM1067.83,1526.38h26.47v5.41h-26.47zM1099.42,1526.38h5.41v5.41h-5.41zM1109.94,1526.38h5.41v5.41h-5.41zM1125.74,1526.38h5.41v5.41h-5.41zM862.53,1531.64h15.94v5.41h-15.94zM883.58,1531.64h21.21v5.41h-21.21zM930.96,1531.64h5.41v5.41h-5.41zM941.49,1531.64h15.94v5.41h-15.94zM973.08,1531.64h26.47v5.41h-26.47zM1009.92,1531.64h21.21v5.41h-21.21zM1036.25,1531.64h10.68v5.41h-10.68zM1052.04,1531.64h10.68v5.41h-10.68zM1083.62,1531.64h5.41v5.41h-5.41zM1094.15,1531.64h5.41v5.41h-5.41zM1104.68,1531.64h5.41v5.41h-5.41zM852.00,1536.91h5.41v5.41h-5.41zM867.79,1536.91h5.41v5.41h-5.41zM878.32,1536.91h5.41v5.41h-5.41zM894.11,1536.91h10.68v5.41h-10.68zM909.91,1536.91h5.41v5.41h-5.41zM925.70,1536.91h5.41v5.41h-5.41zM957.28,1536.91h5.41v5.41h-5.41zM967.81,1536.91h10.68v5.41h-10.68zM994.13,1536.91h5.41v5.41h-5.41zM1009.92,1536.91h10.68v5.41h-10.68zM1025.72,1536.91h10.68v5.41h-10.68zM1041.51,1536.91h31.73v5.41h-31.73zM1078.36,1536.91h5.41v5.41h-5.41zM1088.89,1536.91h10.68v5.41h-10.68zM1109.94,1536.91h5.41v5.41h-5.41zM1120.47,1536.91h5.41v5.41h-5.41zM867.79,1542.17h5.41v5.41h-5.41zM883.58,1542.17h5.41v5.41h-5.41zM894.11,1542.17h15.94v5.41h-15.94zM925.70,1542.17h15.94v5.41h-15.94zM946.75,1542.17h15.94v5.41h-15.94zM973.08,1542.17h5.41v5.41h-5.41zM988.87,1542.17h5.41v5.41h-5.41zM999.40,1542.17h37.00v5.41h-37.00zM1073.09,1542.17h5.41v5.41h-5.41zM1094.15,1542.17h5.41v5.41h-5.41zM1104.68,1542.17h5.41v5.41h-5.41zM1115.21,1542.17h15.94v5.41h-15.94zM857.26,1547.43h10.68v5.41h-10.68zM873.06,1547.43h5.41v5.41h-5.41zM894.11,1547.43h15.94v5.41h-15.94zM930.96,1547.43h5.41v5.41h-5.41zM952.02,1547.43h15.94v5.41h-15.94zM973.08,1547.43h5.41v5.41h-5.41zM994.13,1547.43h10.68v5.41h-10.68zM1009.92,1547.43h5.41v5.41h-5.41zM1020.45,1547.43h5.41v5.41h-5.41zM1030.98,1547.43h15.94v5.41h-15.94zM1067.83,1547.43h15.94v5.41h-15.94zM1099.42,1547.43h10.68v5.41h-10.68zM1125.74,1547.43h5.41v5.41h-5.41zM862.53,1552.70h10.68v5.41h-10.68zM883.58,1552.70h10.68v5.41h-10.68zM899.38,1552.70h10.68v5.41h-10.68zM915.17,1552.70h5.41v5.41h-5.41zM930.96,1552.70h5.41v5.41h-5.41zM941.49,1552.70h10.68v5.41h-10.68zM957.28,1552.70h5.41v5.41h-5.41zM994.13,1552.70h5.41v5.41h-5.41zM1004.66,1552.70h10.68v5.41h-10.68zM1020.45,1552.70h5.41v5.41h-5.41zM1036.25,1552.70h5.41v5.41h-5.41zM1052.04,1552.70h10.68v5.41h-10.68zM1067.83,1552.70h5.41v5.41h-5.41zM1078.36,1552.70h10.68v5.41h-10.68zM1094.15,1552.70h26.47v5.41h-26.47zM857.26,1557.96h10.68v5.41h-10.68zM873.06,1557.96h5.41v5.41h-5.41zM894.11,1557.96h5.41v5.41h-5.41zM909.91,1557.96h15.94v5.41h-15.94zM930.96,1557.96h5.41v5.41h-5.41zM941.49,1557.96h37.00v5.41h-37.00zM983.60,1557.96h5.41v5.41h-5.41zM1004.66,1557.96h5.41v5.41h-5.41zM1015.19,1557.96h10.68v5.41h-10.68zM1030.98,1557.96h10.68v5.41h-10.68zM1052.04,1557.96h15.94v5.41h-15.94zM1073.09,1557.96h10.68v5.41h-10.68zM1094.15,1557.96h10.68v5.41h-10.68zM1109.94,1557.96h10.68v5.41h-10.68zM857.26,1563.23h5.41v5.41h-5.41zM867.79,1563.23h5.41v5.41h-5.41zM878.32,1563.23h15.94v5.41h-15.94zM904.64,1563.23h5.41v5.41h-5.41zM920.43,1563.23h5.41v5.41h-5.41zM930.96,1563.23h5.41v5.41h-5.41zM941.49,1563.23h15.94v5.41h-15.94zM967.81,1563.23h5.41v5.41h-5.41zM978.34,1563.23h5.41v5.41h-5.41zM988.87,1563.23h21.21v5.41h-21.21zM1015.19,1563.23h31.73v5.41h-31.73zM1052.04,1563.23h10.68v5.41h-10.68zM1067.83,1563.23h5.41v5.41h-5.41zM1083.62,1563.23h5.41v5.41h-5.41zM1099.42,1563.23h5.41v5.41h-5.41zM1115.21,1563.23h5.41v5.41h-5.41zM1125.74,1563.23h5.41v5.41h-5.41zM862.53,1568.49h5.41v5.41h-5.41zM888.85,1568.49h10.68v5.41h-10.68zM909.91,1568.49h10.68v5.41h-10.68zM925.70,1568.49h10.68v5.41h-10.68zM941.49,1568.49h5.41v5.41h-5.41zM962.55,1568.49h5.41v5.41h-5.41zM978.34,1568.49h15.94v5.41h-15.94zM999.40,1568.49h15.94v5.41h-15.94zM1030.98,1568.49h26.47v5.41h-26.47zM1062.57,1568.49h21.21v5.41h-21.21zM1088.89,1568.49h15.94v5.41h-15.94zM1125.74,1568.49h5.41v5.41h-5.41zM852.00,1573.75h10.68v5.41h-10.68zM867.79,1573.75h5.41v5.41h-5.41zM878.32,1573.75h10.68v5.41h-10.68zM915.17,1573.75h5.41v5.41h-5.41zM925.70,1573.75h26.47v5.41h-26.47zM957.28,1573.75h5.41v5.41h-5.41zM967.81,1573.75h5.41v5.41h-5.41zM1004.66,1573.75h5.41v5.41h-5.41zM1020.45,1573.75h10.68v5.41h-10.68zM1041.51,1573.75h10.68v5.41h-10.68zM1057.30,1573.75h5.41v5.41h-5.41zM1078.36,1573.75h5.41v5.41h-5.41zM1088.89,1573.75h5.41v5.41h-5.41zM1099.42,1573.75h21.21v5.41h-21.21zM862.53,1579.02h10.68v5.41h-10.68zM888.85,1579.02h5.41v5.41h-5.41zM904.64,1579.02h10.68v5.41h-10.68zM936.23,1579.02h5.41v5.41h-5.41zM962.55,1579.02h31.73v5.41h-31.73zM1004.66,1579.02h10.68v5.41h-10.68zM1020.45,1579.02h5.41v5.41h-5.41zM1052.04,1579.02h5.41v5.41h-5.41zM1078.36,1579.02h5.41v5.41h-5.41zM1115.21,1579.02h10.68v5.41h-10.68zM857.26,1584.28h5.41v5.41h-5.41zM878.32,1584.28h10.68v5.41h-10.68zM894.11,1584.28h21.21v5.41h-21.21zM930.96,1584.28h5.41v5.41h-5.41zM941.49,1584.28h5.41v5.41h-5.41zM952.02,1584.28h5.41v5.41h-5.41zM967.81,1584.28h15.94v5.41h-15.94zM1015.19,1584.28h5.41v5.41h-5.41zM1036.25,1584.28h10.68v5.41h-10.68zM1062.57,1584.28h5.41v5.41h-5.41zM1078.36,1584.28h10.68v5.41h-10.68zM1099.42,1584.28h31.73v5.41h-31.73zM867.79,1589.55h15.94v5.41h-15.94zM888.85,1589.55h10.68v5.41h-10.68zM915.17,1589.55h15.94v5.41h-15.94zM952.02,1589.55h15.94v5.41h-15.94zM973.08,1589.55h15.94v5.41h-15.94zM994.13,1589.55h5.41v5.41h-5.41zM1004.66,1589.55h10.68v5.41h-10.68zM1025.72,1589.55h5.41v5.41h-5.41zM1036.25,1589.55h5.41v5.41h-5.41zM1046.77,1589.55h5.41v5.41h-5.41zM1057.30,1589.55h15.94v5.41h-15.94zM1078.36,1589.55h5.41v5.41h-5.41zM1094.15,1589.55h21.21v5.41h-21.21zM1120.47,1589.55h10.68v5.41h-10.68zM852.00,1594.81h26.47v5.41h-26.47zM883.58,1594.81h5.41v5.41h-5.41zM899.38,1594.81h5.41v5.41h-5.41zM909.91,1594.81h10.68v5.41h-10.68zM925.70,1594.81h47.53v5.41h-47.53zM978.34,1594.81h5.41v5.41h-5.41zM999.40,1594.81h5.41v5.41h-5.41zM1015.19,1594.81h5.41v5.41h-5.41zM1025.72,1594.81h26.47v5.41h-26.47zM1067.83,1594.81h26.47v5.41h-26.47zM1099.42,1594.81h5.41v5.41h-5.41zM1120.47,1594.81h10.68v5.41h-10.68zM862.53,1600.08h10.68v5.41h-10.68zM878.32,1600.08h5.41v5.41h-5.41zM888.85,1600.08h5.41v5.41h-5.41zM915.17,1600.08h5.41v5.41h-5.41zM946.75,1600.08h5.41v5.41h-5.41zM973.08,1600.08h5.41v5.41h-5.41zM983.60,1600.08h5.41v5.41h-5.41zM994.13,1600.08h10.68v5.41h-10.68zM1009.92,1600.08h5.41v5.41h-5.41zM1020.45,1600.08h5.41v5.41h-5.41zM1036.25,1600.08h15.94v5.41h-15.94zM1057.30,1600.08h5.41v5.41h-5.41zM1078.36,1600.08h21.21v5.41h-21.21zM857.26,1605.34h5.41v5.41h-5.41zM873.06,1605.34h26.47v5.41h-26.47zM904.64,1605.34h5.41v5.41h-5.41zM915.17,1605.34h15.94v5.41h-15.94zM941.49,1605.34h5.41v5.41h-5.41zM957.28,1605.34h5.41v5.41h-5.41zM978.34,1605.34h26.47v5.41h-26.47zM1015.19,1605.34h5.41v5.41h-5.41zM1025.72,1605.34h15.94v5.41h-15.94zM1046.77,1605.34h10.68v5.41h-10.68zM1062.57,1605.34h5.41v5.41h-5.41zM1073.09,1605.34h47.53v5.41h-47.53zM1125.74,1605.34h5.41v5.41h-5.41zM852.00,1610.60h5.41v5.41h-5.41zM862.53,1610.60h5.41v5.41h-5.41zM873.06,1610.60h5.41v5.41h-5.41zM894.11,1610.60h26.47v5.41h-26.47zM930.96,1610.60h10.68v5.41h-10.68zM957.28,1610.60h26.47v5.41h-26.47zM999.40,1610.60h5.41v5.41h-5.41zM1015.19,1610.60h10.68v5.41h-10.68zM1041.51,1610.60h10.68v5.41h-10.68zM1057.30,1610.60h15.94v5.41h-15.94zM1083.62,1610.60h5.41v5.41h-5.41zM1104.68,1610.60h10.68v5.41h-10.68zM1120.47,1610.60h10.68v5.41h-10.68zM857.26,1615.87h5.41v5.41h-5.41zM867.79,1615.87h10.68v5.41h-10.68zM883.58,1615.87h5.41v5.41h-5.41zM894.11,1615.87h5.41v5.41h-5.41zM904.64,1615.87h5.41v5.41h-5.41zM915.17,1615.87h26.47v5.41h-26.47zM946.75,1615.87h10.68v5.41h-10.68zM962.55,1615.87h5.41v5.41h-5.41zM973.08,1615.87h10.68v5.41h-10.68zM988.87,1615.87h5.41v5.41h-5.41zM999.40,1615.87h5.41v5.41h-5.41zM1009.92,1615.87h37.00v5.41h-37.00zM1052.04,1615.87h15.94v5.41h-15.94zM1078.36,1615.87h10.68v5.41h-10.68zM1094.15,1615.87h5.41v5.41h-5.41zM1104.68,1615.87h5.41v5.41h-5.41zM873.06,1621.13h5.41v5.41h-5.41zM894.11,1621.13h37.00v5.41h-37.00zM936.23,1621.13h5.41v5.41h-5.41zM967.81,1621.13h15.94v5.41h-15.94zM999.40,1621.13h5.41v5.41h-5.41zM1009.92,1621.13h10.68v5.41h-10.68zM1036.25,1621.13h10.68v5.41h-10.68zM1057.30,1621.13h5.41v5.41h-5.41zM1078.36,1621.13h10.68v5.41h-10.68zM1104.68,1621.13h10.68v5.41h-10.68zM1125.74,1621.13h5.41v5.41h-5.41zM862.53,1626.40h5.41v5.41h-5.41zM873.06,1626.40h31.73v5.41h-31.73zM909.91,1626.40h15.94v5.41h-15.94zM930.96,1626.40h10.68v5.41h-10.68zM952.02,1626.40h10.68v5.41h-10.68zM978.34,1626.40h26.47v5.41h-26.47zM1030.98,1626.40h10.68v5.41h-10.68zM1046.77,1626.40h5.41v5.41h-5.41zM1057.30,1626.40h21.21v5.41h-21.21zM1083.62,1626.40h37.00v5.41h-37.00zM1125.74,1626.40h5.41v5.41h-5.41zM857.26,1631.66h5.41v5.41h-5.41zM873.06,1631.66h5.41v5.41h-5.41zM888.85,1631.66h21.21v5.41h-21.21zM915.17,1631.66h10.68v5.41h-10.68zM941.49,1631.66h5.41v5.41h-5.41zM957.28,1631.66h5.41v5.41h-5.41zM983.60,1631.66h5.41v5.41h-5.41zM999.40,1631.66h10.68v5.41h-10.68zM1015.19,1631.66h5.41v5.41h-5.41zM1030.98,1631.66h5.41v5.41h-5.41zM1057.30,1631.66h26.47v5.41h-26.47zM1088.89,1631.66h5.41v5.41h-5.41zM1099.42,1631.66h10.68v5.41h-10.68zM1120.47,1631.66h10.68v5.41h-10.68zM852.00,1636.92h10.68v5.41h-10.68zM883.58,1636.92h10.68v5.41h-10.68zM899.38,1636.92h5.41v5.41h-5.41zM915.17,1636.92h5.41v5.41h-5.41zM925.70,1636.92h31.73v5.41h-31.73zM962.55,1636.92h5.41v5.41h-5.41zM973.08,1636.92h26.47v5.41h-26.47zM1004.66,1636.92h10.68v5.41h-10.68zM1052.04,1636.92h10.68v5.41h-10.68zM1067.83,1636.92h5.41v5.41h-5.41zM1083.62,1636.92h10.68v5.41h-10.68zM1099.42,1636.92h15.94v5.41h-15.94zM852.00,1642.19h10.68v5.41h-10.68zM867.79,1642.19h10.68v5.41h-10.68zM888.85,1642.19h5.41v5.41h-5.41zM909.91,1642.19h26.47v5.41h-26.47zM946.75,1642.19h5.41v5.41h-5.41zM957.28,1642.19h5.41v5.41h-5.41zM967.81,1642.19h15.94v5.41h-15.94zM988.87,1642.19h5.41v5.41h-5.41zM999.40,1642.19h10.68v5.41h-10.68zM1015.19,1642.19h5.41v5.41h-5.41zM1025.72,1642.19h10.68v5.41h-10.68zM1046.77,1642.19h37.00v5.41h-37.00zM1099.42,1642.19h5.41v5.41h-5.41zM1109.94,1642.19h5.41v5.41h-5.41zM1120.47,1642.19h5.41v5.41h-5.41zM852.00,1647.45h47.53v5.41h-47.53zM925.70,1647.45h10.68v5.41h-10.68zM941.49,1647.45h5.41v5.41h-5.41zM957.28,1647.45h5.41v5.41h-5.41zM973.08,1647.45h31.73v5.41h-31.73zM1015.19,1647.45h5.41v5.41h-5.41zM1025.72,1647.45h5.41v5.41h-5.41zM1041.51,1647.45h15.94v5.41h-15.94zM1067.83,1647.45h10.68v5.41h-10.68zM1088.89,1647.45h15.94v5.41h-15.94zM1115.21,1647.45h10.68v5.41h-10.68zM852.00,1652.72h15.94v5.41h-15.94zM873.06,1652.72h5.41v5.41h-5.41zM894.11,1652.72h10.68v5.41h-10.68zM920.43,1652.72h26.47v5.41h-26.47zM952.02,1652.72h21.21v5.41h-21.21zM978.34,1652.72h5.41v5.41h-5.41zM994.13,1652.72h5.41v5.41h-5.41zM1004.66,1652.72h5.41v5.41h-5.41zM1020.45,1652.72h5.41v5.41h-5.41zM1030.98,1652.72h5.41v5.41h-5.41zM1041.51,1652.72h5.41v5.41h-5.41zM1062.57,1652.72h15.94v5.41h-15.94zM1088.89,1652.72h21.21v5.41h-21.21zM1125.74,1652.72h5.41v5.41h-5.41zM852.00,1657.98h5.41v5.41h-5.41zM878.32,1657.98h15.94v5.41h-15.94zM899.38,1657.98h10.68v5.41h-10.68zM915.17,1657.98h10.68v5.41h-10.68zM930.96,1657.98h5.41v5.41h-5.41zM941.49,1657.98h10.68v5.41h-10.68zM957.28,1657.98h10.68v5.41h-10.68zM978.34,1657.98h21.21v5.41h-21.21zM1009.92,1657.98h10.68v5.41h-10.68zM1036.25,1657.98h5.41v5.41h-5.41zM1052.04,1657.98h5.41v5.41h-5.41zM1062.57,1657.98h5.41v5.41h-5.41zM1078.36,1657.98h15.94v5.41h-15.94zM1104.68,1657.98h5.41v5.41h-5.41zM852.00,1663.25h5.41v5.41h-5.41zM873.06,1663.25h10.68v5.41h-10.68zM894.11,1663.25h31.73v5.41h-31.73zM930.96,1663.25h26.47v5.41h-26.47zM962.55,1663.25h10.68v5.41h-10.68zM983.60,1663.25h10.68v5.41h-10.68zM1004.66,1663.25h10.68v5.41h-10.68zM1020.45,1663.25h10.68v5.41h-10.68zM1052.04,1663.25h5.41v5.41h-5.41zM1062.57,1663.25h5.41v5.41h-5.41zM1083.62,1663.25h15.94v5.41h-15.94zM1104.68,1663.25h5.41v5.41h-5.41zM1115.21,1663.25h10.68v5.41h-10.68zM852.00,1668.51h5.41v5.41h-5.41zM873.06,1668.51h5.41v5.41h-5.41zM883.58,1668.51h5.41v5.41h-5.41zM904.64,1668.51h5.41v5.41h-5.41zM920.43,1668.51h10.68v5.41h-10.68zM957.28,1668.51h5.41v5.41h-5.41zM967.81,1668.51h5.41v5.41h-5.41zM978.34,1668.51h10.68v5.41h-10.68zM994.13,1668.51h10.68v5.41h-10.68zM1015.19,1668.51h5.41v5.41h-5.41zM1036.25,1668.51h10.68v5.41h-10.68zM1073.09,1668.51h15.94v5.41h-15.94zM1104.68,1668.51h5.41v5.41h-5.41zM1120.47,1668.51h5.41v5.41h-5.41zM852.00,1673.77h15.94v5.41h-15.94zM888.85,1673.77h10.68v5.41h-10.68zM915.17,1673.77h10.68v5.41h-10.68zM936.23,1673.77h5.41v5.41h-5.41zM952.02,1673.77h31.73v5.41h-31.73zM988.87,1673.77h5.41v5.41h-5.41zM999.40,1673.77h31.73v5.41h-31.73zM1036.25,1673.77h5.41v5.41h-5.41zM1046.77,1673.77h10.68v5.41h-10.68zM1067.83,1673.77h5.41v5.41h-5.41zM1078.36,1673.77h10.68v5.41h-10.68zM1109.94,1673.77h10.68v5.41h-10.68zM1125.74,1673.77h5.41v5.41h-5.41zM857.26,1679.04h5.41v5.41h-5.41zM867.79,1679.04h5.41v5.41h-5.41zM878.32,1679.04h31.73v5.41h-31.73zM920.43,1679.04h10.68v5.41h-10.68zM936.23,1679.04h5.41v5.41h-5.41zM952.02,1679.04h15.94v5.41h-15.94zM978.34,1679.04h10.68v5.41h-10.68zM994.13,1679.04h10.68v5.41h-10.68zM1041.51,1679.04h10.68v5.41h-10.68zM1067.83,1679.04h5.41v5.41h-5.41zM1083.62,1679.04h5.41v5.41h-5.41zM1099.42,1679.04h5.41v5.41h-5.41zM1115.21,1679.04h5.41v5.41h-5.41zM1125.74,1679.04h5.41v5.41h-5.41zM852.00,1684.30h5.41v5.41h-5.41zM867.79,1684.30h5.41v5.41h-5.41zM878.32,1684.30h5.41v5.41h-5.41zM888.85,1684.30h10.68v5.41h-10.68zM904.64,1684.30h5.41v5.41h-5.41zM920.43,1684.30h10.68v5.41h-10.68zM941.49,1684.30h10.68v5.41h-10.68zM957.28,1684.30h5.41v5.41h-5.41zM973.08,1684.30h10.68v5.41h-10.68zM988.87,1684.30h5.41v5.41h-5.41zM1009.92,1684.30h5.41v5.41h-5.41zM1020.45,1684.30h5.41v5.41h-5.41zM1030.98,1684.30h5.41v5.41h-5.41zM1052.04,1684.30h37.00v5.41h-37.00zM1094.15,1684.30h10.68v5.41h-10.68zM1115.21,1684.30h10.68v5.41h-10.68zM857.26,1689.57h15.94v5.41h-15.94zM883.58,1689.57h5.41v5.41h-5.41zM909.91,1689.57h5.41v5.41h-5.41zM920.43,1689.57h15.94v5.41h-15.94zM941.49,1689.57h15.94v5.41h-15.94zM962.55,1689.57h5.41v5.41h-5.41zM973.08,1689.57h10.68v5.41h-10.68zM988.87,1689.57h5.41v5.41h-5.41zM1004.66,1689.57h15.94v5.41h-15.94zM1025.72,1689.57h21.21v5.41h-21.21zM1052.04,1689.57h5.41v5.41h-5.41zM1062.57,1689.57h5.41v5.41h-5.41zM1104.68,1689.57h26.47v5.41h-26.47zM852.00,1694.83h5.41v5.41h-5.41zM862.53,1694.83h10.68v5.41h-10.68zM899.38,1694.83h5.41v5.41h-5.41zM909.91,1694.83h10.68v5.41h-10.68zM930.96,1694.83h10.68v5.41h-10.68zM957.28,1694.83h5.41v5.41h-5.41zM973.08,1694.83h5.41v5.41h-5.41zM983.60,1694.83h10.68v5.41h-10.68zM999.40,1694.83h5.41v5.41h-5.41zM1009.92,1694.83h15.94v5.41h-15.94zM1036.25,1694.83h5.41v5.41h-5.41zM1046.77,1694.83h26.47v5.41h-26.47zM1078.36,1694.83h5.41v5.41h-5.41zM1088.89,1694.83h5.41v5.41h-5.41zM1109.94,1694.83h5.41v5.41h-5.41zM1120.47,1694.83h5.41v5.41h-5.41zM852.00,1700.09h10.68v5.41h-10.68zM867.79,1700.09h21.21v5.41h-21.21zM894.11,1700.09h37.00v5.41h-37.00zM936.23,1700.09h5.41v5.41h-5.41zM946.75,1700.09h5.41v5.41h-5.41zM957.28,1700.09h5.41v5.41h-5.41zM978.34,1700.09h26.47v5.41h-26.47zM1015.19,1700.09h26.47v5.41h-26.47zM1057.30,1700.09h5.41v5.41h-5.41zM1067.83,1700.09h10.68v5.41h-10.68zM1088.89,1700.09h5.41v5.41h-5.41zM1115.21,1700.09h10.68v5.41h-10.68zM857.26,1705.36h10.68v5.41h-10.68zM899.38,1705.36h15.94v5.41h-15.94zM920.43,1705.36h10.68v5.41h-10.68zM946.75,1705.36h10.68v5.41h-10.68zM962.55,1705.36h26.47v5.41h-26.47zM1009.92,1705.36h5.41v5.41h-5.41zM1020.45,1705.36h10.68v5.41h-10.68zM1046.77,1705.36h15.94v5.41h-15.94zM1067.83,1705.36h15.94v5.41h-15.94zM1088.89,1705.36h5.41v5.41h-5.41zM1099.42,1705.36h10.68v5.41h-10.68zM1115.21,1705.36h5.41v5.41h-5.41zM867.79,1710.62h5.41v5.41h-5.41zM883.58,1710.62h5.41v5.41h-5.41zM894.11,1710.62h26.47v5.41h-26.47zM925.70,1710.62h5.41v5.41h-5.41zM936.23,1710.62h5.41v5.41h-5.41zM952.02,1710.62h5.41v5.41h-5.41zM978.34,1710.62h26.47v5.41h-26.47zM1009.92,1710.62h10.68v5.41h-10.68zM1036.25,1710.62h5.41v5.41h-5.41zM1046.77,1710.62h10.68v5.41h-10.68zM1062.57,1710.62h5.41v5.41h-5.41zM1073.09,1710.62h5.41v5.41h-5.41zM1083.62,1710.62h26.47v5.41h-26.47zM1125.74,1710.62h5.41v5.41h-5.41zM894.11,1715.89h10.68v5.41h-10.68zM909.91,1715.89h5.41v5.41h-5.41zM920.43,1715.89h5.41v5.41h-5.41zM952.02,1715.89h5.41v5.41h-5.41zM962.55,1715.89h5.41v5.41h-5.41zM973.08,1715.89h10.68v5.41h-10.68zM999.40,1715.89h5.41v5.41h-5.41zM1015.19,1715.89h15.94v5.41h-15.94zM1046.77,1715.89h5.41v5.41h-5.41zM1057.30,1715.89h15.94v5.41h-15.94zM1078.36,1715.89h10.68v5.41h-10.68zM1104.68,1715.89h10.68v5.41h-10.68zM1120.47,1715.89h10.68v5.41h-10.68zM852.00,1721.15h37.00v5.41h-37.00zM904.64,1721.15h31.73v5.41h-31.73zM941.49,1721.15h10.68v5.41h-10.68zM967.81,1721.15h5.41v5.41h-5.41zM978.34,1721.15h5.41v5.41h-5.41zM988.87,1721.15h5.41v5.41h-5.41zM999.40,1721.15h5.41v5.41h-5.41zM1009.92,1721.15h5.41v5.41h-5.41zM1025.72,1721.15h15.94v5.41h-15.94zM1052.04,1721.15h15.94v5.41h-15.94zM1073.09,1721.15h15.94v5.41h-15.94zM1094.15,1721.15h5.41v5.41h-5.41zM1104.68,1721.15h5.41v5.41h-5.41zM852.00,1726.42h5.41v5.41h-5.41zM883.58,1726.42h5.41v5.41h-5.41zM894.11,1726.42h10.68v5.41h-10.68zM930.96,1726.42h5.41v5.41h-5.41zM957.28,1726.42h15.94v5.41h-15.94zM978.34,1726.42h5.41v5.41h-5.41zM999.40,1726.42h15.94v5.41h-15.94zM1036.25,1726.42h21.21v5.41h-21.21zM1067.83,1726.42h21.21v5.41h-21.21zM1104.68,1726.42h10.68v5.41h-10.68zM852.00,1731.68h5.41v5.41h-5.41zM862.53,1731.68h15.94v5.41h-15.94zM883.58,1731.68h5.41v5.41h-5.41zM894.11,1731.68h5.41v5.41h-5.41zM909.91,1731.68h10.68v5.41h-10.68zM925.70,1731.68h5.41v5.41h-5.41zM936.23,1731.68h5.41v5.41h-5.41zM967.81,1731.68h5.41v5.41h-5.41zM978.34,1731.68h26.47v5.41h-26.47zM1015.19,1731.68h10.68v5.41h-10.68zM1030.98,1731.68h21.21v5.41h-21.21zM1073.09,1731.68h47.53v5.41h-47.53zM1125.74,1731.68h5.41v5.41h-5.41zM852.00,1736.94h5.41v5.41h-5.41zM862.53,1736.94h15.94v5.41h-15.94zM883.58,1736.94h5.41v5.41h-5.41zM894.11,1736.94h15.94v5.41h-15.94zM915.17,1736.94h5.41v5.41h-5.41zM925.70,1736.94h21.21v5.41h-21.21zM952.02,1736.94h5.41v5.41h-5.41zM962.55,1736.94h5.41v5.41h-5.41zM973.08,1736.94h10.68v5.41h-10.68zM988.87,1736.94h5.41v5.41h-5.41zM1004.66,1736.94h5.41v5.41h-5.41zM1020.45,1736.94h5.41v5.41h-5.41zM1046.77,1736.94h5.41v5.41h-5.41zM1057.30,1736.94h5.41v5.41h-5.41zM1067.83,1736.94h10.68v5.41h-10.68zM1088.89,1736.94h5.41v5.41h-5.41zM1104.68,1736.94h21.21v5.41h-21.21zM852.00,1742.21h5.41v5.41h-5.41zM862.53,1742.21h15.94v5.41h-15.94zM883.58,1742.21h5.41v5.41h-5.41zM894.11,1742.21h15.94v5.41h-15.94zM915.17,1742.21h10.68v5.41h-10.68zM936.23,1742.21h5.41v5.41h-5.41zM946.75,1742.21h5.41v5.41h-5.41zM978.34,1742.21h5.41v5.41h-5.41zM994.13,1742.21h15.94v5.41h-15.94zM1015.19,1742.21h15.94v5.41h-15.94zM1041.51,1742.21h26.47v5.41h-26.47zM1078.36,1742.21h15.94v5.41h-15.94zM1099.42,1742.21h15.94v5.41h-15.94zM852.00,1747.47h5.41v5.41h-5.41zM883.58,1747.47h5.41v5.41h-5.41zM899.38,1747.47h31.73v5.41h-31.73zM946.75,1747.47h21.21v5.41h-21.21zM973.08,1747.47h10.68v5.41h-10.68zM988.87,1747.47h5.41v5.41h-5.41zM1009.92,1747.47h5.41v5.41h-5.41zM1020.45,1747.47h10.68v5.41h-10.68zM1041.51,1747.47h31.73v5.41h-31.73zM1094.15,1747.47h5.41v5.41h-5.41zM1104.68,1747.47h5.41v5.41h-5.41zM1120.47,1747.47h5.41v5.41h-5.41zM852.00,1752.74h37.00v5.41h-37.00zM894.11,1752.74h10.68v5.41h-10.68zM909.91,1752.74h5.41v5.41h-5.41zM920.43,1752.74h5.41v5.41h-5.41zM930.96,1752.74h10.68v5.41h-10.68zM973.08,1752.74h5.41v5.41h-5.41zM988.87,1752.74h10.68v5.41h-10.68zM1004.66,1752.74h37.00v5.41h-37.00zM1046.77,1752.74h5.41v5.41h-5.41zM1057.30,1752.74h5.41v5.41h-5.41zM1067.83,1752.74h10.68v5.41h-10.68zM1083.62,1752.74h15.94v5.41h-15.94zM1104.68,1752.74h5.41v5.41h-5.41zM1115.21,1752.74h5.41v5.41h-5.41z" fill="#000" shape-rendering="crispEdges"/>
</svg>
</body></html>
